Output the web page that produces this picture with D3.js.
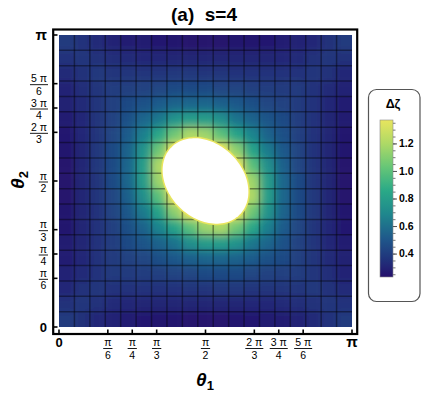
<!DOCTYPE html>
<html>
<head>
<meta charset="utf-8">
<script src="https://cdn.jsdelivr.net/npm/d3@7"></script>
<style>
  body { margin: 0; background: #fff; }
  text { font-family: "Liberation Sans", Arial, sans-serif; fill: #000; }
</style>
</head>
<body>
<svg id="chart"></svg>
<script>
"use strict";

var svg_width = 422;
var svg_height = 395;

// Δζ, one value per mesh cell.
// rows go from θ2 = π (top) down to θ2 = 0, columns from θ1 = 0 to π.
// cells at 1.40 sit under the white (out of range) region.
var cellValues = [
  [0.39,0.36,0.33,0.30,0.28,0.27,0.26,0.25,0.24,0.24,0.24,0.25,0.25,0.26,0.28,0.30,0.32,0.35,0.39],
  [0.36,0.37,0.35,0.34,0.33,0.32,0.32,0.31,0.31,0.31,0.31,0.31,0.31,0.31,0.32,0.33,0.35,0.37,0.35],
  [0.33,0.35,0.38,0.37,0.37,0.37,0.37,0.38,0.38,0.37,0.37,0.36,0.36,0.36,0.36,0.36,0.37,0.35,0.32],
  [0.30,0.34,0.37,0.40,0.41,0.42,0.44,0.45,0.45,0.45,0.44,0.43,0.41,0.40,0.39,0.39,0.36,0.33,0.30],
  [0.29,0.33,0.37,0.41,0.45,0.48,0.52,0.55,0.56,0.56,0.54,0.51,0.47,0.44,0.42,0.39,0.36,0.32,0.28],
  [0.27,0.32,0.37,0.42,0.48,0.56,0.63,0.75,0.80,0.79,0.73,0.61,0.55,0.49,0.45,0.40,0.36,0.31,0.27],
  [0.26,0.32,0.37,0.44,0.52,0.66,0.85,1.05,1.20,1.16,1.00,0.83,0.68,0.55,0.47,0.41,0.36,0.31,0.25],
  [0.25,0.31,0.38,0.45,0.55,0.75,1.05,1.40,1.40,1.40,1.40,1.12,0.83,0.64,0.51,0.43,0.36,0.31,0.25],
  [0.24,0.31,0.38,0.45,0.56,0.80,1.20,1.40,1.40,1.40,1.40,1.40,1.00,0.73,0.54,0.44,0.37,0.31,0.24],
  [0.24,0.31,0.37,0.45,0.56,0.79,1.16,1.40,1.40,1.40,1.40,1.40,1.16,0.79,0.56,0.45,0.37,0.31,0.24],
  [0.24,0.31,0.37,0.44,0.54,0.73,1.00,1.40,1.40,1.40,1.40,1.40,1.20,0.80,0.56,0.45,0.38,0.31,0.24],
  [0.25,0.31,0.36,0.43,0.51,0.64,0.83,1.12,1.40,1.40,1.40,1.40,1.05,0.75,0.55,0.45,0.38,0.31,0.25],
  [0.25,0.31,0.36,0.41,0.47,0.55,0.68,0.83,1.00,1.16,1.20,1.05,0.85,0.66,0.52,0.44,0.37,0.32,0.26],
  [0.27,0.31,0.36,0.40,0.45,0.49,0.55,0.61,0.73,0.79,0.80,0.75,0.63,0.56,0.48,0.42,0.37,0.32,0.27],
  [0.28,0.32,0.36,0.39,0.42,0.44,0.47,0.51,0.54,0.56,0.56,0.55,0.52,0.48,0.45,0.41,0.37,0.33,0.29],
  [0.30,0.33,0.36,0.39,0.39,0.40,0.41,0.43,0.44,0.45,0.45,0.45,0.44,0.42,0.41,0.40,0.37,0.34,0.30],
  [0.32,0.35,0.37,0.36,0.36,0.36,0.36,0.36,0.37,0.37,0.38,0.38,0.37,0.37,0.37,0.37,0.38,0.35,0.33],
  [0.35,0.37,0.35,0.33,0.32,0.31,0.31,0.31,0.31,0.31,0.31,0.31,0.32,0.32,0.33,0.34,0.35,0.37,0.36],
  [0.39,0.35,0.32,0.30,0.28,0.26,0.25,0.25,0.24,0.24,0.24,0.25,0.26,0.27,0.28,0.30,0.33,0.36,0.39]
];

// region where Δζ runs past the top of the colour range (drawn white)
var holeCenter = [1.571, 1.571];     // (θ1, θ2)
var holeSemiAxes = [0.515, 0.397];   // along θ1-θ2 and along θ1+θ2

var colorRange = [0.23, 1.37];
var legendTicks = [0.4, 0.6, 0.8, 1.0, 1.2];

var tickValues = [0, Math.PI/6, Math.PI/4, Math.PI/3, Math.PI/2, 2*Math.PI/3, 3*Math.PI/4, 5*Math.PI/6, Math.PI];
var tickNumerators = ["0", "π", "π", "π", "π", "2 π", "3 π", "5 π", "π"];
var tickDenominators = [null, "6", "4", "3", "2", "3", "4", "6", null];

// colour gradient stops (fraction of range, colour)
var gradientStops = [
  [0.00, "#25106c"], [0.12, "#20357c"], [0.25, "#1f5a8b"], [0.40, "#1f878d"],
  [0.55, "#2aa987"], [0.70, "#66c677"], [0.85, "#aed966"], [1.00, "#e8e55e"]
];

var svg = d3.select("#chart")
    .attr("width", svg_width)
    .attr("height", svg_height);
var defs = svg.append("defs");

var xScale = d3.scaleLinear().domain([0, Math.PI]).range([59, 352]);
var yScale = d3.scaleLinear().domain([0, Math.PI]).range([327, 35]);

var colorScale = d3.scaleLinear()
    .domain(gradientStops.map(function(s) {return colorRange[0] + s[0]*(colorRange[1]-colorRange[0]);}))
    .range(gradientStops.map(function(s) {return s[1];}))
    .interpolate(d3.interpolateRgb)
    .clamp(true);

// title
svg.append("text")
    .attr("x", 204).attr("y", 21)
    .attr("text-anchor", "middle")
    .style("font-size", "19px").style("font-weight", "bold")
    .attr("xml:space", "preserve")
    .text("(a)  s=4");

// density cells, softened a little so the shading reads as smooth.
// border cells are stretched past the plot edge so the blur does not fade there.
var plotX = xScale(0), plotY = yScale(Math.PI);
var plotW = xScale(Math.PI) - xScale(0), plotH = yScale(0) - yScale(Math.PI);
var pad = 20;
defs.append("clipPath").attr("id", "plot-clip")
  .append("rect").attr("x", plotX).attr("y", plotY).attr("width", plotW).attr("height", plotH);
defs.append("filter").attr("id", "smooth")
    .attr("filterUnits", "userSpaceOnUse")
    .attr("x", plotX - pad).attr("y", plotY - pad).attr("width", plotW + 2*pad).attr("height", plotH + 2*pad)
  .append("feGaussianBlur").attr("stdDeviation", 4.5);

var nCells = cellValues.length;
var step = Math.PI / nCells;
var cells = [];
cellValues.forEach(function(row, j) {
    row.forEach(function(v, i) { cells.push({i: i, j: j, v: v}); });
});

function cellX0(d) {return xScale(d.i*step) - (d.i === 0 ? pad : 0);}
function cellX1(d) {return xScale((d.i+1)*step) + (d.i === nCells-1 ? pad : 0.5);}
function cellY0(d) {return yScale(Math.PI - d.j*step) - (d.j === 0 ? pad : 0);}
function cellY1(d) {return yScale(Math.PI - (d.j+1)*step) + (d.j === nCells-1 ? pad : 0.5);}

svg.append("g").attr("clip-path", "url(#plot-clip)")
  .append("g").attr("class", "cells").attr("filter", "url(#smooth)")
  .selectAll("rect")
  .data(cells)
  .enter().append("rect")
    .attr("x", cellX0)
    .attr("y", cellY0)
    .attr("width", function(d) {return cellX1(d) - cellX0(d);})
    .attr("height", function(d) {return cellY1(d) - cellY0(d);})
    .attr("fill", function(d) {return colorScale(d.v);});

// mesh
var meshPos = d3.range(1, nCells).map(function(k) {return k*step;});
var mesh = svg.append("g").attr("class", "mesh")
    .attr("stroke", "#000").attr("stroke-opacity", 0.4).attr("stroke-width", 1.5);
mesh.selectAll(".vline").data(meshPos).enter().append("line")
    .attr("x1", function(d) {return xScale(d);}).attr("x2", function(d) {return xScale(d);})
    .attr("y1", yScale(0)).attr("y2", yScale(Math.PI));
mesh.selectAll(".hline").data(meshPos).enter().append("line")
    .attr("y1", function(d) {return yScale(d);}).attr("y2", function(d) {return yScale(d);})
    .attr("x1", xScale(0)).attr("x2", xScale(Math.PI));

// white out-of-range region, edged with the top colour of the range
var e1 = [Math.SQRT1_2, -Math.SQRT1_2];
var e2 = [Math.SQRT1_2, Math.SQRT1_2];
var holePts = d3.range(0, 361, 3).map(function(deg) {
    var a = deg * Math.PI / 180;
    var u = holeSemiAxes[0]*Math.cos(a), w = holeSemiAxes[1]*Math.sin(a);
    return [xScale(holeCenter[0] + u*e1[0] + w*e2[0]),
            yScale(holeCenter[1] + u*e1[1] + w*e2[1])];
});
var holePath = d3.line().curve(d3.curveLinearClosed)(holePts);
svg.append("path")
    .attr("d", holePath)
    .attr("fill", "#fff")
    .attr("stroke", colorScale(colorRange[1]))
    .attr("stroke-width", 3);
svg.append("path")
    .attr("d", holePath)
    .attr("fill", "#fff");

// frame
svg.append("rect")
    .attr("x", 53.2).attr("y", 29.5)
    .attr("width", 304).attr("height", 304.5)
    .attr("fill", "none").attr("stroke", "#000").attr("stroke-width", 2.2);

// ticks (pointing inward)
svg.append("g").selectAll("line").data(tickValues).enter().append("line")
    .attr("x1", 53.2).attr("x2", 57.5)
    .attr("y1", function(d) {return yScale(d);}).attr("y2", function(d) {return yScale(d);})
    .attr("stroke", "#000").attr("stroke-width", 1.6);
svg.append("g").selectAll("line").data(tickValues).enter().append("line")
    .attr("y1", 334).attr("y2", 329.5)
    .attr("x1", function(d) {return xScale(d);}).attr("x2", function(d) {return xScale(d);})
    .attr("stroke", "#000").attr("stroke-width", 1.6);

// fraction tick label; anchor "middle" centres on cx, "end" right-aligns at cx
function fractionLabel(g, cx, barY, num, den, anchor) {
    var numText = g.append("text").attr("y", barY - 2.5)
        .attr("text-anchor", "middle").style("font-size", "10.5px").text(num);
    var denText = g.append("text").attr("y", barY + 10)
        .attr("text-anchor", "middle").style("font-size", "10.5px").text(den);
    var w = Math.max(numText.node().getComputedTextLength(), denText.node().getComputedTextLength()) + 2;
    var c = anchor === "end" ? cx - w/2 : cx;
    numText.attr("x", c);
    denText.attr("x", c);
    g.append("line").attr("x1", c - w/2).attr("x2", c + w/2)
        .attr("y1", barY).attr("y2", barY)
        .attr("stroke", "#000").attr("stroke-width", 0.9);
}

function endLabel(g, px, py, label, anchor) {
    g.append("text").attr("x", px).attr("y", py)
        .attr("text-anchor", anchor)
        .style("font-size", label === "π" ? "15px" : "13px")
        .style("font-weight", "bold")
        .text(label);
}

var yLabels = svg.append("g").attr("class", "y-labels");
var xLabels = svg.append("g").attr("class", "x-labels");
tickValues.forEach(function(v, k) {
    if (tickDenominators[k] === null) {
        endLabel(yLabels, 47, yScale(v) + 5, tickNumerators[k], "end");
        endLabel(xLabels, xScale(v), 347, tickNumerators[k], "middle");
    } else {
        fractionLabel(yLabels, 48, yScale(v) + 1, tickNumerators[k], tickDenominators[k], "end");
        fractionLabel(xLabels, xScale(v), 348.5, tickNumerators[k], tickDenominators[k], "middle");
    }
});

// axis titles
var xTitle = svg.append("text")
    .attr("x", 205).attr("y", 386)
    .attr("text-anchor", "middle")
    .style("font-size", "19px").style("font-weight", "bold");
xTitle.append("tspan").style("font-style", "italic").text("θ");
xTitle.append("tspan").attr("dy", 4).style("font-size", "13px").text("1");

var yTitle = svg.append("text")
    .attr("transform", "translate(24,180) rotate(-90)")
    .attr("text-anchor", "middle")
    .style("font-size", "19px").style("font-weight", "bold");
yTitle.append("tspan").style("font-style", "italic").text("θ");
yTitle.append("tspan").attr("dy", 4).style("font-size", "13px").text("2");

// legend
var legend = svg.append("g").attr("class", "legend");
legend.append("rect")
    .attr("x", 368.5).attr("y", 89.5).attr("width", 51.5).attr("height", 212)
    .attr("rx", 8).attr("ry", 8)
    .attr("fill", "#fff").attr("stroke", "#555").attr("stroke-width", 1.2);
legend.append("text")
    .attr("x", 393).attr("y", 108)
    .attr("text-anchor", "middle")
    .style("font-size", "12.5px").style("font-weight", "bold")
    .text("Δζ");

var legendScale = d3.scaleLinear().domain(colorRange).range([277, 120]);

var grad = defs.append("linearGradient")
    .attr("id", "dz-grad")
    .attr("x1", 0).attr("y1", 1).attr("x2", 0).attr("y2", 0);
grad.selectAll("stop").data(d3.range(0, 1.0001, 0.02)).enter().append("stop")
    .attr("offset", function(t) {return t;})
    .attr("stop-color", function(t) {return colorScale(colorRange[0] + t*(colorRange[1]-colorRange[0]));});

legend.append("rect")
    .attr("x", 380).attr("y", legendScale(colorRange[1]))
    .attr("width", 13).attr("height", legendScale(colorRange[0]) - legendScale(colorRange[1]))
    .attr("fill", "url(#dz-grad)")
    .attr("stroke", "#8a8a8a").attr("stroke-width", 0.6);

var minorTicks = d3.range(0.25, colorRange[1], 0.05);
legend.append("g")
    .attr("transform", "translate(393,0)")
    .call(d3.axisRight(legendScale).tickValues(minorTicks).tickSize(2.5).tickFormat(""))
    .call(function(g) {g.select(".domain").remove();})
    .selectAll("line").attr("stroke", "#777");
var legendAxis = legend.append("g")
    .attr("transform", "translate(393,0)")
    .call(d3.axisRight(legendScale).tickValues(legendTicks).tickSize(4).tickPadding(2).tickFormat(d3.format(".1f")));
legendAxis.select(".domain").remove();
legendAxis.selectAll("line").attr("stroke", "#555");
legendAxis.selectAll("text")
    .style("font-size", "10.5px").style("font-weight", "bold")
    .style("font-family", "'Liberation Sans', Arial, sans-serif")
    .attr("fill", "#222");
</script>
</body>
</html>
